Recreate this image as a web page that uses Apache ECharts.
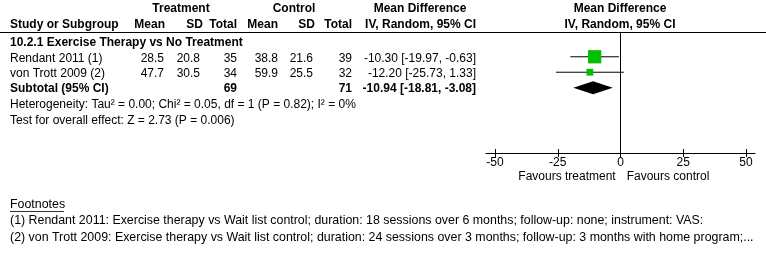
<!DOCTYPE html>
<html>
<head>
<meta charset="utf-8">
<script src="https://cdn.jsdelivr.net/npm/echarts@6/dist/echarts.min.js"></script>
<style>
html, body { margin: 0; padding: 0; background: #fff; }
#forest { width: 766px; height: 256px; }
</style>
</head>
<body>
<div id="forest"></div>
<script>
// study rows
var studies = ['Rendant 2011 (1)', 'von Trott 2009 (2)'];
var treatMean = [28.5, 47.7];
var treatSD = [20.8, 30.5];
var treatN = [35, 34];
var ctrlMean = [38.8, 59.9];
var ctrlSD = [21.6, 25.5];
var ctrlN = [39, 32];
var md = [-10.30, -12.20];
var ciLow = [-19.97, -25.73];
var ciHigh = [-0.63, 1.33];
var weights = [66.2, 33.8];

// subtotal
var subgroup = '10.2.1 Exercise Therapy vs No Treatment';
var subTreatN = 69, subCtrlN = 71;
var subMd = -10.94, subLow = -18.81, subHigh = -3.08;
var heterogeneity = 'Heterogeneity: Tau\u00b2 = 0.00; Chi\u00b2 = 0.05, df = 1 (P = 0.82); I\u00b2 = 0%';
var overall = 'Test for overall effect: Z = 2.73 (P = 0.006)';

var xTicks = [-50, -25, 0, 25, 50];
var footnotes = [
    '(1) Rendant 2011: Exercise therapy vs Wait list control; duration: 18 sessions over 6 months; follow-up: none; instrument: VAS:',
    '(2) von Trott 2009: Exercise therapy vs Wait list control; duration: 24 sessions over 3 months; follow-up: 3 months with home program;...'
];

var FONT = "'Liberation Sans', Arial, sans-serif";
var GREEN = '#00c000';

var forest_dom = document.getElementById('forest');
var forest_chart = echarts.init(forest_dom);

var ciData = [], squareData = [];
for (var i = 0; i < studies.length; i++) {
    ciData.push([ciLow[i], ciHigh[i], i + 1]);
    squareData.push({value: [md[i], i + 1], symbolSize: weights[i] / 5});
}

var plotGrid = {left: 486, right: 11, top: 32, bottom: 103};
var hidden = {show: false};

var option = {
    animation: false,
    grid: [plotGrid, plotGrid, {left: 0, right: 0, top: 32, height: 1}],
    xAxis: [
        {
            type: 'value', min: -53.6, max: 53.6, gridIndex: 0,
            axisLine: {onZero: false, lineStyle: {color: '#000', width: 1}},
            axisTick: {customValues: xTicks, length: 4, lineStyle: {color: '#000'}},
            axisLabel: {customValues: xTicks, color: '#000', fontSize: 12, fontFamily: FONT, margin: 4},
            splitLine: hidden
        },
        {
            // second copy only for the upward half of the ticks
            type: 'value', min: -53.6, max: 53.6, gridIndex: 1, position: 'bottom',
            axisLine: {show: false, onZero: false},
            axisTick: {customValues: xTicks, inside: true, length: 4, lineStyle: {color: '#000'}},
            axisLabel: hidden,
            splitLine: hidden
        },
        {
            // header rule across the whole table
            type: 'value', min: 0, max: 1, gridIndex: 2, position: 'top',
            axisLine: {show: true, onZero: false, lineStyle: {color: '#000', width: 1}},
            axisTick: hidden, axisLabel: hidden, splitLine: hidden
        }
    ],
    yAxis: [
        {type: 'value', inverse: true, min: -0.604, max: 7.23, show: false, gridIndex: 0},
        {type: 'value', min: 0, max: 1, show: false, gridIndex: 1},
        {type: 'value', min: 0, max: 1, show: false, gridIndex: 2}
    ],
    series: [
        {
            type: 'custom',
            data: ciData,
            renderItem: function (params, api) {
                var a = api.coord([api.value(0), api.value(2)]);
                var b = api.coord([api.value(1), api.value(2)]);
                return {
                    type: 'line',
                    shape: {x1: a[0], y1: a[1], x2: b[0], y2: b[1]},
                    style: {stroke: '#000', lineWidth: 1}
                };
            },
            markLine: {
                silent: true, symbol: 'none', label: {show: false},
                lineStyle: {color: '#000', width: 1, type: 'solid'},
                data: [{xAxis: 0}]
            },
            z: 2
        },
        {
            type: 'scatter',
            symbol: 'rect',
            itemStyle: {color: GREEN, opacity: 1},
            data: squareData,
            z: 3
        },
        {
            type: 'custom',
            data: [[subLow, subMd, subHigh, 3]],
            renderItem: function (params, api) {
                var l = api.coord([api.value(0), api.value(3)]);
                var m = api.coord([api.value(1), api.value(3)]);
                var r = api.coord([api.value(2), api.value(3)]);
                var h = 6.5;
                return {
                    type: 'polygon',
                    shape: {points: [[l[0], l[1]], [m[0], m[1] - h], [r[0], r[1]], [m[0], m[1] + h]]},
                    style: {fill: '#000'}
                };
            },
            z: 3
        },
        {
            // footnotes underline
            type: 'custom',
            coordinateSystem: 'none',
            silent: true,
            data: [0],
            renderItem: function () {
                return {type: 'rect', shape: {x: 10, y: 211, width: 54, height: 1}, style: {fill: '#333'}};
            },
            z: 1
        }
    ]
};

forest_chart.setOption(option);

// table text, rows placed through the y axis
function rowY(r) {
    return forest_chart.convertToPixel({yAxisIndex: 0}, r) + 1.5;
}
function txt(s, x, y, align, bold, size) {
    return {
        type: 'text', x: x, y: y, silent: true,
        style: {
            text: s, align: align || 'left', verticalAlign: 'middle',
            font: (bold ? 'bold ' : '') + (size || 12) + 'px ' + FONT, fill: '#000'
        }
    };
}
function fmt(v) { return v.toFixed(2); }

var g = [];
// header
g.push(txt('Treatment', 181, 9, 'center', true));
g.push(txt('Control', 294, 9, 'center', true));
g.push(txt('Mean Difference', 420, 9, 'center', true));
g.push(txt('Mean Difference', 620, 9, 'center', true));
g.push(txt('Study or Subgroup', 10, 25, 'left', true));
g.push(txt('Mean', 165, 25, 'right', true));
g.push(txt('SD', 203, 25, 'right', true));
g.push(txt('Total', 237, 25, 'right', true));
g.push(txt('Mean', 278, 25, 'right', true));
g.push(txt('SD', 315, 25, 'right', true));
g.push(txt('Total', 352, 25, 'right', true));
g.push(txt('IV, Random, 95% CI', 476, 25, 'right', true));
g.push(txt('IV, Random, 95% CI', 620, 25, 'center', true));

g.push(txt(subgroup, 10, rowY(0), 'left', true));
for (var k = 0; k < studies.length; k++) {
    var y = rowY(k + 1);
    g.push(txt(studies[k], 10, y));
    g.push(txt(treatMean[k].toFixed(1), 164, y, 'right'));
    g.push(txt(treatSD[k].toFixed(1), 200, y, 'right'));
    g.push(txt(String(treatN[k]), 237, y, 'right'));
    g.push(txt(ctrlMean[k].toFixed(1), 278, y, 'right'));
    g.push(txt(ctrlSD[k].toFixed(1), 313, y, 'right'));
    g.push(txt(String(ctrlN[k]), 352, y, 'right'));
    g.push(txt(fmt(md[k]) + ' [' + fmt(ciLow[k]) + ', ' + fmt(ciHigh[k]) + ']', 476, y, 'right'));
}
var ys = rowY(3);
g.push(txt('Subtotal (95% CI)', 10, ys, 'left', true));
g.push(txt(String(subTreatN), 237, ys, 'right', true));
g.push(txt(String(subCtrlN), 352, ys, 'right', true));
g.push(txt(fmt(subMd) + ' [' + fmt(subLow) + ', ' + fmt(subHigh) + ']', 476, ys, 'right', true));
g.push(txt(heterogeneity, 10, 105, 'left', false, 12));
g.push(txt(overall, 10, 121, 'left', false, 12));

g.push(txt('Favours treatment', 567, 177, 'center'));
g.push(txt('Favours control', 668, 177, 'center'));

g.push(txt('Footnotes', 10, 205, 'left', false, 12.4));
g.push(txt(footnotes[0], 10, 221, 'left', false, 12.4));
g.push(txt(footnotes[1], 10, 237.5, 'left', false, 12.4));

forest_chart.setOption({graphic: g});
</script>
</body>
</html>
